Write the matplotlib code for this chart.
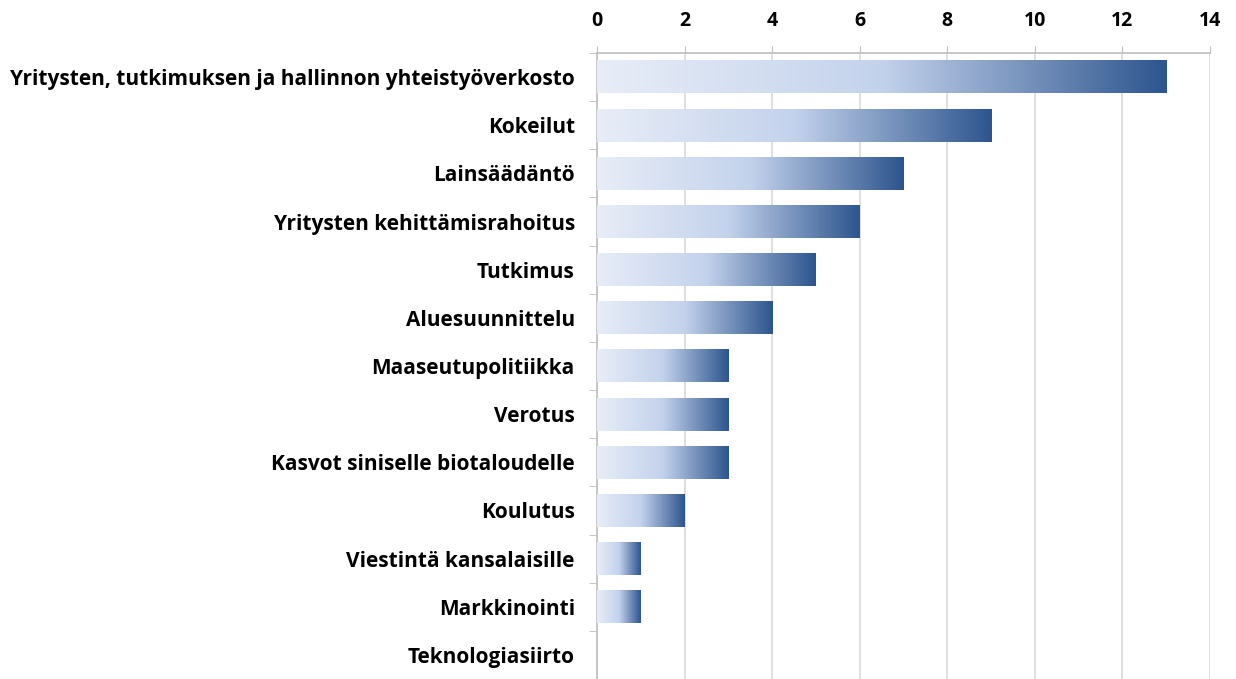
import numpy as np
import matplotlib.pyplot as plt
from matplotlib.colors import LinearSegmentedColormap
from matplotlib.ticker import FixedLocator

categories = [
    "Yritysten, tutkimuksen ja hallinnon yhteistyöverkosto",
    "Kokeilut",
    "Lainsäädäntö",
    "Yritysten kehittämisrahoitus",
    "Tutkimus",
    "Aluesuunnittelu",
    "Maaseutupolitiikka",
    "Verotus",
    "Kasvot siniselle biotaloudelle",
    "Koulutus",
    "Viestintä kansalaisille",
    "Markkinointi",
    "Teknologiasiirto",
]
values = [13, 9, 7, 6, 5, 4, 3, 3, 3, 2, 1, 1, 0]
x_ticks = [0, 2, 4, 6, 8, 10, 12, 14]

plt.rcParams['font.family'] = ['Open Sans', 'DejaVu Sans']

grad = LinearSegmentedColormap.from_list(
    "bar", [(0.0, "#e8edf7"), (0.5, "#c3d2ec"), (1.0, "#2d558e")])

fig = plt.figure(figsize=(12.36, 6.79), dpi=100)
ax = fig.add_axes([0.483, 0.0, 0.496, 0.922])

n = len(categories)
ys = np.arange(n)
h = 0.68
ramp = np.linspace(0, 1, 256).reshape(1, -1)
for y, v in zip(ys, values):
    if v <= 0:
        continue
    ax.imshow(ramp, cmap=grad, aspect='auto', interpolation='bilinear',
              extent=(0, v, y + h / 2, y - h / 2), zorder=3)

ax.set_xlim(0, 14)
ax.set_ylim(n - 0.5, -0.5)
ax.set_aspect('auto')

ax.xaxis.tick_top()
ax.set_xticks(x_ticks)
ax.set_xticklabels([str(t) for t in x_ticks], fontsize=14, fontweight='bold')
ax.tick_params(axis='x', length=5, color='#bfbfbf', pad=11)
ax.grid(axis='x', color='#d9d9d9', linewidth=1.2, zorder=0)

ax.set_yticks(ys)
ax.set_yticklabels(categories, fontsize=15, fontweight='bold')
ax.yaxis.set_minor_locator(FixedLocator(np.arange(-0.5, n, 1.0)))
ax.tick_params(axis='y', which='major', length=0, pad=16)
ax.tick_params(axis='y', which='minor', length=6, color='#bfbfbf')

for side in ['right', 'bottom']:
    ax.spines[side].set_visible(False)
for side in ['left', 'top']:
    ax.spines[side].set_color('#bfbfbf')
    ax.spines[side].set_linewidth(1.2)

fig.savefig("out.png", dpi=100)
